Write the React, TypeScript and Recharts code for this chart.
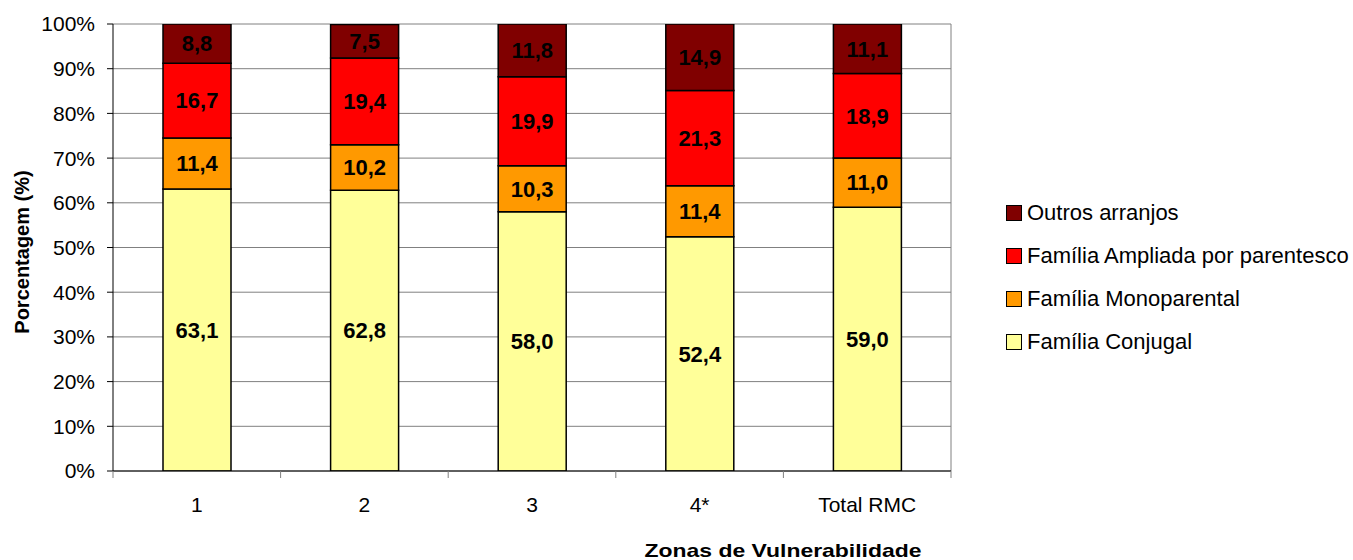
import React from 'react';
import { BarChart, Bar, XAxis, YAxis, CartesianGrid, LabelList, Label } from 'recharts';

const categories = ['1', '2', '3', '4*', 'Total RMC'];
const conjugal = [63.1, 62.8, 58.0, 52.4, 59.0];
const monoparental = [11.4, 10.2, 10.3, 11.4, 11.0];
const ampliada = [16.7, 19.4, 19.9, 21.3, 18.9];
const outros = [8.8, 7.5, 11.8, 14.9, 11.1];
const yTicks = [0, 10, 20, 30, 40, 50, 60, 70, 80, 90, 100];

const series = [
  { key: 'outros', name: 'Outros arranjos', color: '#800000' },
  { key: 'ampliada', name: 'Família Ampliada por parentesco', color: '#FF0000' },
  { key: 'mono', name: 'Família Monoparental', color: '#FF9900' },
  { key: 'conjugal', name: 'Família Conjugal', color: '#FFFF99' },
];

const W = 1353;
const H = 560;
const MARGIN = { top: 24, right: 402, bottom: 49, left: 40 };
const Y_AXIS_W = 73;
const X_AXIS_H = 40;
const PLOT_W = W - MARGIN.left - MARGIN.right - Y_AXIS_W;
const BAND = PLOT_W / categories.length;
const TICK_SIZE = 8;
const TICK_MARGIN = 18;
const FONT = '"Liberation Sans", Arial, sans-serif';

const data = categories.map((c, i) => ({
  name: c,
  conjugal: conjugal[i],
  mono: monoparental[i],
  ampliada: ampliada[i],
  outros: outros[i],
}));

const fmt = (v: any) => Number(v).toFixed(1).replace('.', ',');

const XTick = (props: any) => {
  const { x, y, payload, index } = props;
  const axisY = y - TICK_SIZE - TICK_MARGIN;
  const left = x - BAND / 2;
  const right = x + BAND / 2;
  return (
    <g>
      <line x1={left} x2={left} y1={axisY} y2={axisY + 7} stroke="#808080" />
      {index === categories.length - 1 && (
        <line x1={right} x2={right} y1={axisY} y2={axisY + 7} stroke="#808080" />
      )}
      <text x={x} y={y} dy="0.71em" textAnchor="middle" fill="#000" fontSize={21} fontFamily={FONT}>
        {payload.value}
      </text>
    </g>
  );
};

const labelStyle = { fontSize: 22, fontWeight: 'bold' as const, fontFamily: FONT };

export default function App() {
  const legendItems = [...series];
  return (
    <div style={{ position: 'absolute', left: 0, top: 0, width: W, height: H, background: '#fff', fontFamily: FONT }}>
      <BarChart width={W} height={H} data={data} margin={MARGIN} barSize={68}>
        <CartesianGrid
          stroke="#808080"
          horizontal={true}
          verticalCoordinatesGenerator={({ offset }: any) => [offset.left + offset.width]}
        />
        <XAxis
          dataKey="name"
          height={X_AXIS_H}
          axisLine={{ stroke: '#000' }}
          tickLine={false}
          tickSize={TICK_SIZE}
          tickMargin={TICK_MARGIN}
          tick={<XTick />}
          interval={0}
        >
          <Label
            content={() => (
              <text
                x={783}
                y={550}
                textAnchor="middle"
                dominantBaseline="central"
                fontSize={19}
                fontWeight="bold"
                fontFamily={FONT}
                fill="#000"
                textLength={277}
                lengthAdjust="spacingAndGlyphs"
              >
                Zonas de Vulnerabilidade
              </text>
            )}
          />
        </XAxis>
        <YAxis
          width={Y_AXIS_W}
          domain={[0, 100]}
          ticks={yTicks}
          interval={0}
          allowDataOverflow
          axisLine={{ stroke: '#000' }}
          tickLine={{ stroke: '#000' }}
          tickSize={6}
          tickMargin={12}
          tick={{ fill: '#000', fontSize: 21, fontFamily: FONT }}
          tickFormatter={(v) => `${v}%`}
        >
          <Label
            content={() => (
              <text
                x={22}
                y={252}
                transform="rotate(-90, 22, 252)"
                textAnchor="middle"
                dominantBaseline="central"
                fontSize={20}
                fontWeight="bold"
                fontFamily={FONT}
                fill="#000"
              >
                Porcentagem (%)
              </text>
            )}
          />
        </YAxis>
        <Bar dataKey="conjugal" stackId="a" fill="#FFFF99" stroke="#000" strokeWidth={1.5} isAnimationActive={false}>
          <LabelList dataKey="conjugal" position="center" fill="#000" formatter={fmt} style={labelStyle} />
        </Bar>
        <Bar dataKey="mono" stackId="a" fill="#FF9900" stroke="#000" strokeWidth={1.5} isAnimationActive={false}>
          <LabelList dataKey="mono" position="center" fill="#000" formatter={fmt} style={labelStyle} />
        </Bar>
        <Bar dataKey="ampliada" stackId="a" fill="#FF0000" stroke="#000" strokeWidth={1.5} isAnimationActive={false}>
          <LabelList dataKey="ampliada" position="center" fill="#000" formatter={fmt} style={labelStyle} />
        </Bar>
        <Bar dataKey="outros" stackId="a" fill="#800000" stroke="#000" strokeWidth={1.5} isAnimationActive={false}>
          <LabelList dataKey="outros" position="center" fill="#000" formatter={fmt} style={labelStyle} />
        </Bar>
      </BarChart>
      {/* legend, top entry = top stack segment */}
      <div style={{ position: 'absolute', left: 1006, top: 191 }}>
        {legendItems.map((s) => (
          <div key={s.key} style={{ display: 'flex', alignItems: 'center', height: 43, fontSize: 22, color: '#000' }}>
            <span
              style={{
                display: 'inline-block',
                width: 14,
                height: 14,
                background: s.color,
                border: '1.5px solid #000',
                marginRight: 5,
              }}
            />
            <span>{s.name}</span>
          </div>
        ))}
      </div>
    </div>
  );
}
